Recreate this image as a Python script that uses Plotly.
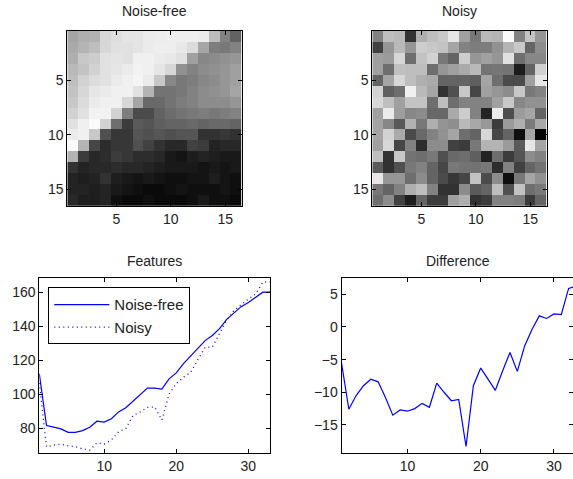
import plotly.graph_objects as go

W, H = 573, 479

# 16x16 grayscale images (0=black, 255=white)
noise_free = [
    [165, 175, 178, 215, 222, 228, 228, 235, 236, 238, 238, 238, 236, 188, 130, 98],
    [170, 180, 190, 215, 225, 225, 228, 235, 238, 238, 232, 220, 165, 125, 120, 130],
    [175, 200, 205, 225, 228, 225, 240, 240, 235, 232, 225, 160, 135, 140, 145, 150],
    [185, 195, 210, 225, 230, 235, 242, 240, 230, 215, 145, 130, 140, 145, 150, 160],
    [190, 210, 220, 225, 235, 240, 245, 235, 200, 135, 120, 125, 135, 140, 150, 160],
    [195, 215, 230, 235, 240, 240, 225, 180, 115, 115, 120, 130, 140, 145, 150, 165],
    [200, 220, 235, 240, 240, 215, 165, 105, 105, 115, 125, 130, 140, 140, 140, 150],
    [210, 225, 242, 242, 210, 125, 75, 75, 98, 108, 115, 120, 125, 120, 125, 130],
    [225, 240, 250, 210, 110, 60, 90, 85, 95, 100, 100, 105, 100, 105, 105, 100],
    [235, 240, 200, 80, 55, 55, 85, 80, 85, 80, 85, 85, 50, 50, 55, 50],
    [250, 180, 70, 45, 55, 55, 80, 65, 50, 40, 40, 65, 60, 35, 40, 40],
    [180, 60, 40, 45, 60, 55, 45, 45, 40, 25, 20, 30, 35, 30, 25, 25],
    [50, 35, 40, 40, 45, 40, 40, 35, 30, 25, 25, 25, 20, 25, 20, 25],
    [35, 30, 35, 50, 30, 25, 20, 25, 20, 15, 15, 20, 20, 30, 20, 15],
    [35, 35, 30, 35, 25, 20, 15, 10, 10, 15, 20, 15, 15, 15, 20, 15],
    [40, 30, 30, 35, 15, 10, 10, 15, 10, 10, 10, 15, 25, 15, 15, 10],
]

noisy = [
    [130, 190, 185, 50, 175, 190, 200, 230, 160, 120, 185, 180, 250, 130, 195, 150],
    [65, 150, 185, 150, 205, 200, 195, 165, 130, 125, 125, 145, 180, 200, 100, 140],
    [160, 155, 215, 110, 195, 210, 120, 100, 205, 150, 160, 150, 225, 110, 135, 135],
    [160, 110, 192, 190, 190, 110, 150, 160, 170, 185, 115, 118, 115, 28, 100, 208],
    [100, 165, 215, 190, 175, 170, 100, 100, 100, 95, 165, 110, 75, 75, 160, 230],
    [210, 95, 110, 240, 185, 165, 50, 80, 200, 70, 160, 150, 140, 200, 120, 130],
    [215, 190, 160, 195, 195, 110, 190, 110, 130, 130, 130, 160, 200, 135, 145, 145],
    [160, 235, 158, 135, 140, 103, 103, 170, 205, 130, 35, 235, 78, 155, 165, 100],
    [163, 135, 88, 178, 120, 175, 148, 142, 185, 168, 152, 60, 155, 175, 122, 168],
    [165, 210, 170, 75, 105, 130, 145, 165, 110, 100, 215, 70, 100, 15, 165, 5],
    [160, 215, 70, 130, 45, 140, 140, 65, 60, 120, 180, 180, 155, 90, 230, 165],
    [190, 50, 200, 115, 110, 120, 80, 105, 110, 95, 35, 110, 60, 85, 140, 130],
    [90, 50, 80, 120, 130, 100, 70, 120, 115, 115, 120, 45, 130, 65, 100, 115],
    [230, 150, 150, 110, 140, 100, 75, 55, 70, 195, 75, 140, 15, 120, 165, 145],
    [120, 100, 130, 175, 190, 130, 50, 50, 140, 90, 100, 190, 80, 195, 110, 120],
    [110, 140, 65, 30, 100, 60, 60, 160, 175, 50, 60, 130, 130, 125, 60, 100],
]

pix = list(range(1, 17))

# Feature vectors
feat_x = list(range(1, 34))
feat_noise_free = [112, 81.5, 80.5, 79.5, 77.5, 77.5, 78.5, 80.5, 84, 83.5, 85.5,
                   89.5, 92, 96, 99.5, 103.5, 103.5, 103, 109, 112.5, 118, 122.5,
                   127, 131.5, 134.5, 138.5, 144, 147.5, 151.5, 154, 157, 160, 160]
feat_noisy = [106.5, 68.9, 70, 70.5, 69.5, 69.1, 67.7, 67, 71.3, 70.6, 73,
              77.8, 79.7, 87.4, 89.5, 92.2, 92.4, 84.7, 100, 106.2, 110, 112.8,
              120.3, 127.6, 127.7, 135.6, 143.6, 149.2, 152.8, 156, 158.9, 165.9, 166.2]
feat_diff = [n - f for n, f in zip(feat_noisy, feat_noise_free)]

gray = [[0, "black"], [1, "white"]]
blue = "rgb(0,0,255)"
FONT = "Liberation Sans, Arial, sans-serif"

fig = go.Figure()

fig.add_trace(go.Heatmap(z=noise_free, x=pix, y=pix, colorscale=gray, zmin=0, zmax=255,
                         showscale=False, xaxis="x", yaxis="y", hoverinfo="skip"))
fig.add_trace(go.Heatmap(z=noisy, x=pix, y=pix, colorscale=gray, zmin=0, zmax=255,
                         showscale=False, xaxis="x2", yaxis="y2", hoverinfo="skip"))

fig.add_trace(go.Scatter(x=feat_x, y=feat_noise_free, mode="lines", name="Noise-free",
                         line=dict(color=blue, width=1.2), xaxis="x3", yaxis="y3"))
fig.add_trace(go.Scatter(x=feat_x, y=feat_noisy, mode="lines", name="Noisy",
                         line=dict(color=blue, width=1.3, dash="1px,3.5px"), xaxis="x3", yaxis="y3"))
fig.add_trace(go.Scatter(x=feat_x, y=feat_diff, mode="lines", showlegend=False,
                         line=dict(color=blue, width=1.2), xaxis="x4", yaxis="y4"))


def px_x(v):
    return v / W


def px_y(v):
    return 1 - v / H


axis_common = dict(showline=True, linecolor="black", linewidth=1, mirror="ticks",
                   ticks="inside", ticklen=4, tickcolor="black", showgrid=False,
                   zeroline=False, tickfont=dict(family=FONT, size=14, color="#222"))

img_tick = dict(tickmode="array", tickvals=[5, 10, 15], ticktext=["5", "10", "15"])

fig.update_layout(
    width=W, height=H, margin=dict(l=0, r=0, t=0, b=0),
    paper_bgcolor="white", plot_bgcolor="white",
    font=dict(family=FONT, size=14, color="black"),
    xaxis=dict(domain=[px_x(67.3), px_x(241.7)], range=[0.5, 16.5], anchor="y", **img_tick, **axis_common),
    yaxis=dict(domain=[px_y(205.7), px_y(31)], range=[16.5, 0.5], anchor="x", **img_tick, **axis_common),
    xaxis2=dict(domain=[px_x(372.3), px_x(546.7)], range=[0.5, 16.5], anchor="y2", **img_tick, **axis_common),
    yaxis2=dict(domain=[px_y(205.7), px_y(31)], range=[16.5, 0.5], anchor="x2", **img_tick, **axis_common),
    xaxis3=dict(domain=[px_x(39.3), px_x(270)], range=[1, 33], anchor="y3",
                tickvals=[10, 20, 30], **axis_common),
    yaxis3=dict(domain=[px_y(453), px_y(278.3)], range=[65.3, 168.2], anchor="x3",
                tickvals=[80, 100, 120, 140, 160], **axis_common),
    xaxis4=dict(domain=[px_x(341.5), 1.0], range=[1, 32.6], anchor="y4",
                tickvals=[10, 20, 30], **axis_common),
    yaxis4=dict(domain=[px_y(453), px_y(278.3)], range=[-19.3, 7.45], anchor="x4",
                tickvals=[-15, -10, -5, 0, 5], **axis_common),
    legend=dict(x=px_x(48.3), y=px_y(287.3), xanchor="left", yanchor="top",
                bgcolor="white", bordercolor="black", borderwidth=1,
                font=dict(family=FONT, size=15, color="#222"),
                itemwidth=55, tracegroupgap=0),
    showlegend=True,
)

titles = [("Noise-free", 154.5, 21), ("Noisy", 459.5, 21),
          ("Features", 154.7, 271), ("Difference", 458, 271)]
for text, cx, bottom in titles:
    fig.add_annotation(text=text, x=px_x(cx), y=px_y(bottom), xref="paper", yref="paper",
                       xanchor="center", yanchor="bottom", showarrow=False,
                       font=dict(family=FONT, size=14, color="#222"))

fig.write_html(
    "out.html",
    config={"displayModeBar": False},
    post_script="document.body.style.margin='0';document.body.style.overflow='hidden';",
)
